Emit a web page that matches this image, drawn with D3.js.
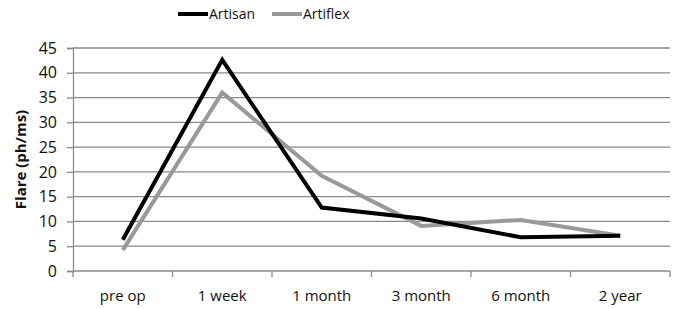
<!DOCTYPE html>
<html>
<head>
<meta charset="utf-8">
<script src="https://cdn.jsdelivr.net/npm/d3@7"></script>
<style>
  body { margin: 0; background: #fff; }
  text { font-family: "Open Sans", "Noto Sans", sans-serif; fill: #111; }
</style>
</head>
<body>
<svg id="chart" width="680" height="309"></svg>
<script>
const categories = ['pre op', '1 week', '1 month', '3 month', '6 month', '2 year'];
const artisan = [6.3, 42.6, 12.8, 10.6, 6.8, 7.1];
const artiflex = [4.2, 36.0, 19.2, 9.1, 10.3, 7.1];
const yTicks = [0, 5, 10, 15, 20, 25, 30, 35, 40, 45];

const series = [
  { name: 'Artisan', values: artisan, color: '#000' },
  { name: 'Artiflex', values: artiflex, color: '#999' }
];

const svg = d3.select('#chart');
const margin = { top: 48, right: 10, bottom: 38, left: 73 };
const width = 680 - margin.left - margin.right;
const height = 309 - margin.top - margin.bottom;

const g = svg.append('g').attr('transform', `translate(${margin.left},${margin.top})`);

const x = d3.scaleBand().domain(categories).range([0, width]);
const y = d3.scaleLinear().domain([0, 45]).range([height, 0]);

// horizontal grid
g.selectAll('.grid')
  .data(yTicks.slice(1))
  .enter()
  .append('line')
  .attr('x1', 0)
  .attr('x2', width)
  .attr('y1', d => y(d))
  .attr('y2', d => y(d))
  .attr('stroke', '#8a8a8a')
  .attr('stroke-width', 1.3);

// y axis
const yAxis = g.append('g')
  .call(d3.axisLeft(y).tickValues(yTicks).tickSize(6).tickPadding(10));
yAxis.select('.domain').attr('stroke', '#8a8a8a').attr('stroke-width', 1.3);
yAxis.selectAll('.tick line').attr('stroke', '#8a8a8a').attr('stroke-width', 1.3);
yAxis.selectAll('text').style('font-size', '16px').attr('fill', '#111');

// x axis with ticks at band edges
const xAxis = g.append('g').attr('transform', `translate(0,${height})`);
xAxis.append('line')
  .attr('x1', 0).attr('x2', width)
  .attr('stroke', '#8a8a8a').attr('stroke-width', 1.3);
const edges = categories.map(c => x(c)).concat([width]);
xAxis.selectAll('.edge')
  .data(edges)
  .enter()
  .append('line')
  .attr('x1', d => d).attr('x2', d => d)
  .attr('y1', 0).attr('y2', 6)
  .attr('stroke', '#8a8a8a').attr('stroke-width', 1.3);
xAxis.selectAll('.cat')
  .data(categories)
  .enter()
  .append('text')
  .attr('x', d => x(d) + x.bandwidth() / 2)
  .attr('y', 30)
  .attr('text-anchor', 'middle')
  .style('font-size', '15px')
  .text(d => d);

// lines
const line = d3.line()
  .x((d, i) => x(categories[i]) + x.bandwidth() / 2)
  .y(d => y(d));

g.selectAll('.series')
  .data(series.slice().reverse())
  .enter()
  .append('path')
  .attr('d', d => line(d.values))
  .attr('fill', 'none')
  .attr('stroke', d => d.color)
  .attr('stroke-width', 4);

// y label
svg.append('text')
  .attr('transform', `translate(26,${margin.top + height / 2}) rotate(-90)`)
  .attr('text-anchor', 'middle')
  .style('font-size', '15px')
  .style('font-weight', 'bold')
  .text('Flare (ph/ms)');

// legend
const legend = svg.append('g').attr('transform', 'translate(178,14)');
const legendX = [0, 94];
series.forEach((s, i) => {
  const lg = legend.append('g').attr('transform', `translate(${legendX[i]},0)`);
  lg.append('line')
    .attr('x1', 0).attr('x2', 30)
    .attr('stroke', s.color).attr('stroke-width', 4);
  lg.append('text')
    .attr('x', 31)
    .attr('y', 5)
    .style('font-size', '14px')
    .text(s.name);
});
</script>
</body>
</html>
